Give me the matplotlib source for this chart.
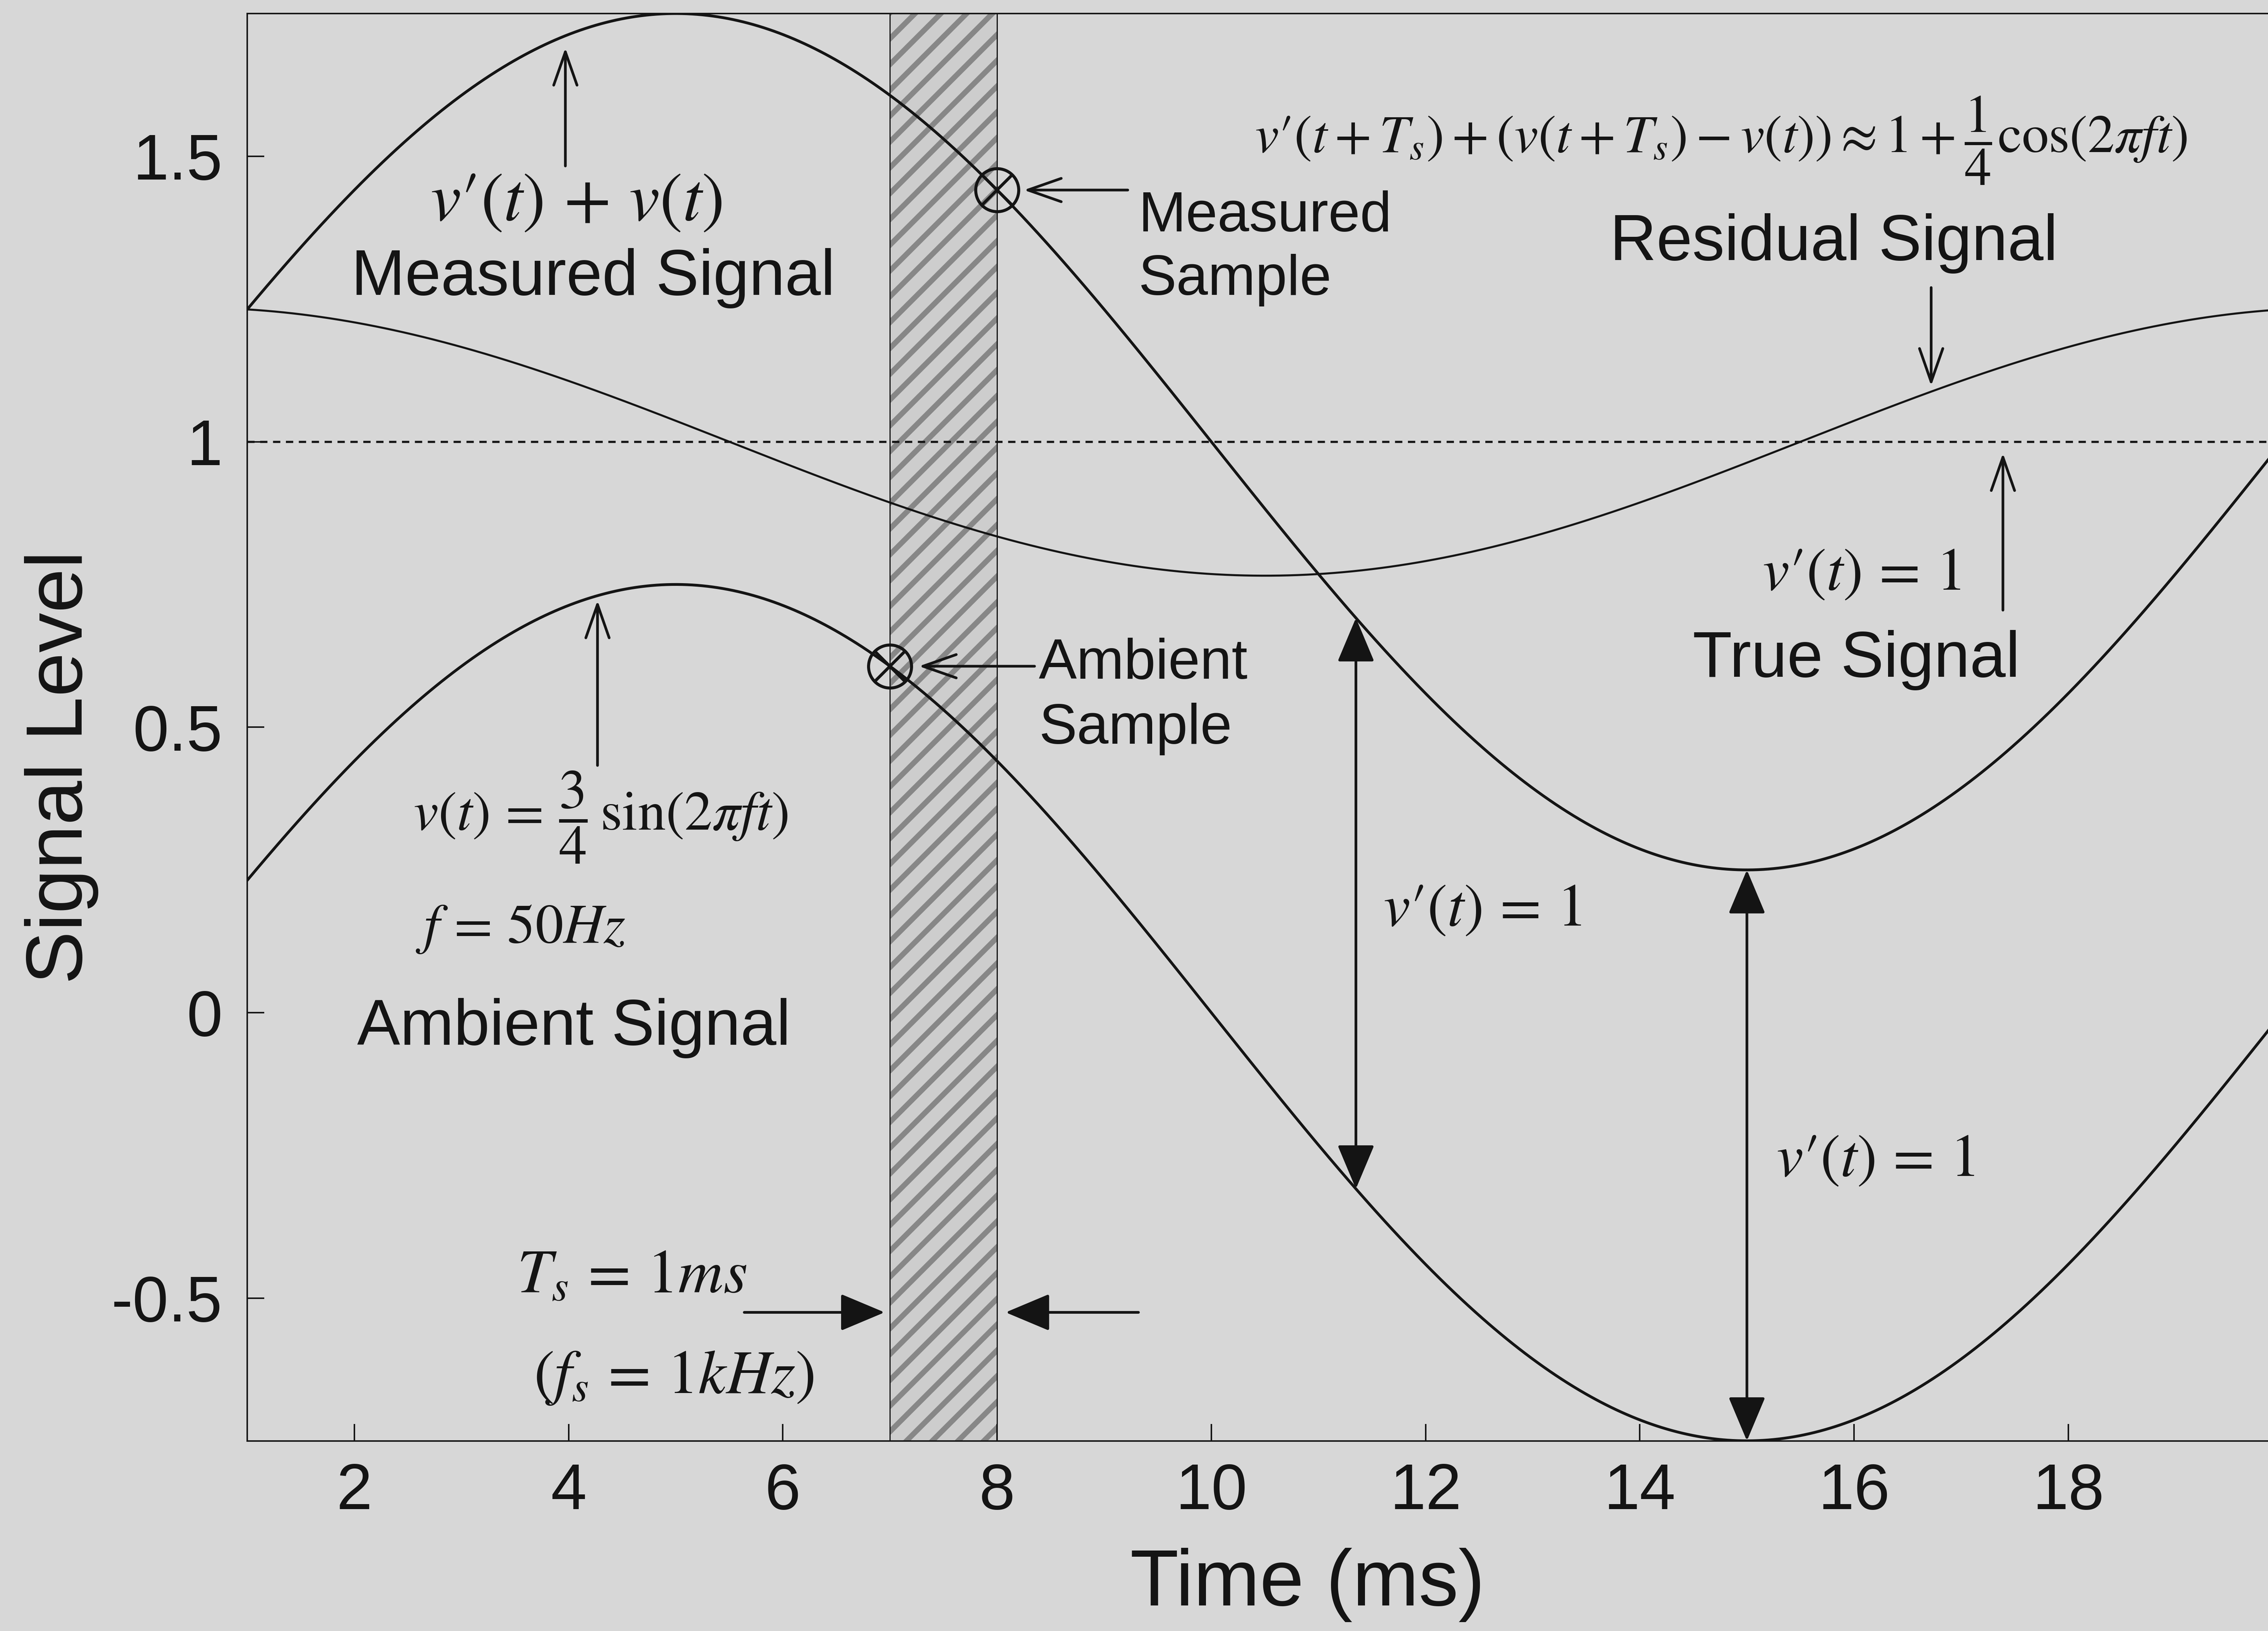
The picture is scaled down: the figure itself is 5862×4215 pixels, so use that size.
import numpy as np
import matplotlib.pyplot as plt

# ---- signal parameters (as annotated on the figure) ----
true_level = 1.0          # v'(t) = 1
amplitude = 3 / 4         # v(t) = 3/4 sin(2*pi*f*t)
freq_hz = 50.0            # f = 50 Hz
Ts_ms = 1.0               # T_s = 1 ms  (f_s = 1 kHz)
t_range_ms = [1.0, 20.0]

ambient_sample_ms = 7.0   # ambient sample taken here
measured_sample_ms = 8.0  # measured sample taken one period later
span_arrow_ms = [11.35, 15.0]   # where v'(t) = 1 is marked between the curves

x_ticks = [2, 4, 6, 8, 10, 12, 14, 16, 18]
y_ticks = [-0.5, 0, 0.5, 1, 1.5]
y_tick_labels = ['-0.5', '0', '0.5', '1', '1.5']
y_limits = [-0.75, 1.75]


def ambient(t_ms):
    return amplitude * np.sin(2 * np.pi * freq_hz * np.asarray(t_ms) / 1000.0)


def measured(t_ms):
    return true_level + ambient(t_ms)


def residual(t_ms):
    # measured sample minus the ambient sample taken one period earlier
    return measured(t_ms) - ambient(np.asarray(t_ms) - Ts_ms)


# ---- styling ----
BG = '#d7d7d7'
INK = '#141414'
SANS = ['Liberation Sans', 'DejaVu Sans']
plt.rcParams['font.family'] = SANS
plt.rcParams['mathtext.fontset'] = 'stix'
plt.rcParams['hatch.linewidth'] = 5.0
plt.rcParams['hatch.color'] = '#878787'

PR = '\u2032'   # prime glyph
VP = 'v' + PR   # v'

DPI = 200
fig = plt.figure(figsize=(5862 / DPI, 4215 / DPI), dpi=DPI, facecolor=BG)
ax = fig.add_axes([0.109, 0.1166, 0.8974, 0.8751], facecolor=BG)

t = np.linspace(t_range_ms[0], t_range_ms[1], 2000)

# sampling window between the two samples
ax.axvspan(ambient_sample_ms, measured_sample_ms, facecolor='#cdcdcd',
           edgecolor='#878787', hatch='/', linewidth=0, zorder=1)
for xv in (ambient_sample_ms, measured_sample_ms):
    ax.axvline(xv, color=INK, lw=1.1, zorder=2)

# true signal level
ax.axhline(true_level, color=INK, lw=2.0, linestyle=(0, (3.4, 2.6)), zorder=2)

# curves
ax.plot(t, measured(t), color=INK, lw=2.6, zorder=3)
ax.plot(t, ambient(t), color=INK, lw=2.6, zorder=3)
ax.plot(t, residual(t), color=INK, lw=1.9, zorder=3)

# sample markers (circle with a cross)
for ts, yv in ((measured_sample_ms, measured(measured_sample_ms)),
               (ambient_sample_ms, ambient(ambient_sample_ms))):
    ax.plot(ts, yv, marker='o', ms=40, mfc='none', mec=INK, mew=2.8, zorder=4)
    ax.plot(ts, yv, marker='x', ms=28, mec=INK, mew=2.8, zorder=4)


def arrow(tip, tail, style, scale, lw=2.5):
    ax.annotate('', xy=tip, xytext=tail,
                arrowprops=dict(arrowstyle=style, color=INK, lw=lw,
                                shrinkA=0, shrinkB=0, mutation_scale=scale),
                zorder=5)


def math(x, y, s, size, ha='center'):
    ax.text(x, y, s, fontsize=size, ha=ha, va='center', color=INK)


OPEN = '->,head_length=1.0,head_width=0.35'
FILLED = '-|>,head_length=1.0,head_width=0.42'
DOUBLE = '<|-|>,head_length=1.0,head_width=0.42'

# Measured signal
arrow((3.97, 1.69), (3.97, 1.483), OPEN, 31)
math(4.07, 1.419, '$' + VP + r'(t)\,+\,v(t)$', 64)
ax.text(4.23, 1.257, 'Measured Signal', fontsize=60, ha='center', va='baseline', color=INK)

# Measured sample
arrow((8.25, measured(measured_sample_ms)), (9.22, measured(measured_sample_ms)), OPEN, 31)
ax.text(9.32, 1.369, 'Measured', fontsize=53, ha='left', va='baseline', color=INK)
ax.text(9.32, 1.257, 'Sample', fontsize=53, ha='left', va='baseline', color=INK)

# Ambient sample
arrow((7.27, ambient(ambient_sample_ms)), (8.35, ambient(ambient_sample_ms)), OPEN, 31)
ax.text(8.39, 0.585, 'Ambient', fontsize=53, ha='left', va='baseline', color=INK)
ax.text(8.39, 0.471, 'Sample', fontsize=53, ha='left', va='baseline', color=INK)

# Ambient signal
arrow((4.27, 0.722), (4.27, 0.433), OPEN, 31)
math(4.30, 0.342, r'$v(t)\,=\,\dfrac{3}{4}\,\sin(2\pi ft)$', 52)
math(3.55, 0.147, r'$f\,=\,50Hz$', 52)
ax.text(4.05, -0.056, 'Ambient Signal', fontsize=60, ha='center', va='baseline', color=INK)

# Residual signal
math(14.76, 1.528,
     '$' + VP + r'(t+T_s)+\left(v(t+T_s)-v(t)\right)\approx 1+\dfrac{1}{4}\cos(2\pi ft)$',
     50)
ax.text(15.81, 1.318, 'Residual Signal', fontsize=60, ha='center', va='baseline', color=INK)
arrow((16.72, residual(16.72) + 0.01), (16.72, 1.27), OPEN, 31)

# True signal
arrow((17.39, true_level - 0.02), (17.39, 0.705), OPEN, 31)
math(16.07, 0.768, '$' + VP + r'(t)\,=\,1$', 56)
ax.text(16.02, 0.588, 'True Signal', fontsize=60, ha='center', va='baseline', color=INK)

# v'(t) = 1 gaps between measured and ambient
for ts in span_arrow_ms:
    arrow((ts, measured(ts)), (ts, ambient(ts)), DOUBLE, 36)
math(12.53, 0.180, '$' + VP + r'(t)\,=\,1$', 56)
math(16.20, -0.259, '$' + VP + r'(t)\,=\,1$', 56)

# sampling period
math(4.59, -0.462, r'$T_s\,=\,1ms$', 58)
math(4.98, -0.639, r'$(f_s\,=\,1kHz)$', 58)
arrow((6.95, -0.525), (5.64, -0.525), FILLED, 36)
arrow((8.08, -0.525), (9.32, -0.525), FILLED, 36)

# ---- axes ----
ax.set_xlim(t_range_ms)
ax.set_ylim(y_limits)
ax.set_xticks(x_ticks)
ax.set_xticklabels([str(v) for v in x_ticks])
ax.set_yticks(y_ticks)
ax.set_yticklabels(y_tick_labels)
ax.tick_params(direction='in', length=16, width=1.4, labelsize=60,
               colors=INK, top=False, right=False)
ax.tick_params(axis='y', pad=23)
ax.tick_params(axis='x', pad=20)
for side in ('left', 'bottom', 'top'):
    ax.spines[side].set_linewidth(1.4)
    ax.spines[side].set_color(INK)
ax.spines['right'].set_visible(False)

ax.set_xlabel('Time (ms)', fontsize=74, color=INK)
ax.set_ylabel('Signal Level', fontsize=74, color=INK)
ax.xaxis.set_label_coords(0.521, -0.075)
ax.yaxis.set_label_coords(-0.073, 0.472)

fig.savefig('out.png', dpi=DPI, facecolor=BG)
